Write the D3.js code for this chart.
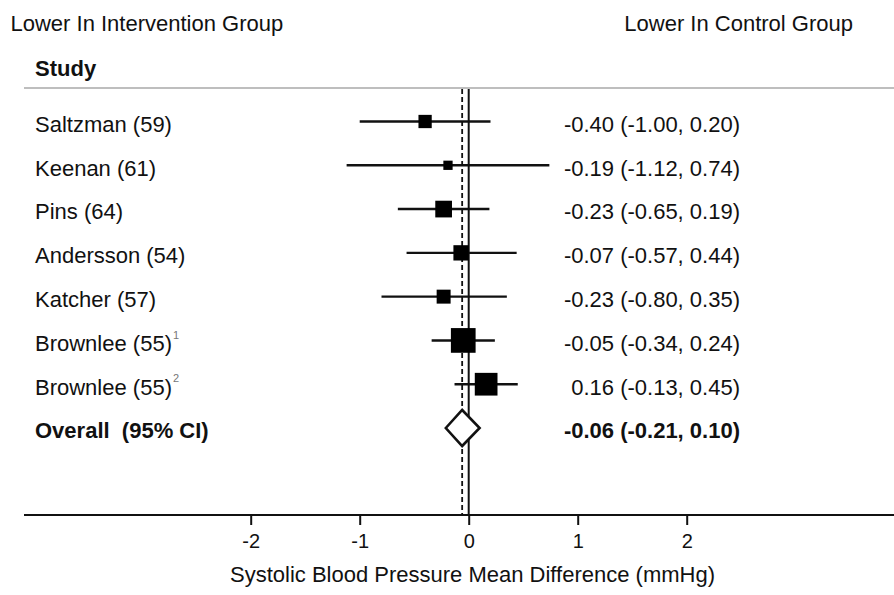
<!DOCTYPE html>
<html>
<head>
<meta charset="utf-8">
<script src="https://cdn.jsdelivr.net/npm/d3@7"></script>
<style>
  body { margin: 0; background: #fff; }
  text { font-family: "Liberation Sans", Arial, sans-serif; fill: #111; }
</style>
</head>
<body>
<script>
var w = 894,
    h = 595;

// study data
var studies = ["Saltzman (59)", "Keenan (61)", "Pins (64)", "Andersson (54)",
               "Katcher (57)", "Brownlee (55)", "Brownlee (55)"];
var notes = ["", "", "", "", "", "1", "2"];
var means = [-0.40, -0.19, -0.23, -0.07, -0.23, -0.05, 0.16];
var lower = [-1.00, -1.12, -0.65, -0.57, -0.80, -0.34, -0.13];
var upper = [0.20, 0.74, 0.19, 0.44, 0.35, 0.24, 0.45];
var weights = [8.4, 4.1, 13.3, 11.2, 9.3, 29.1, 24.6];

var overallLabel = "Overall  (95% CI)";
var overallMean = -0.06,
    overallLower = -0.21,
    overallUpper = 0.10;

var xTicks = [-2, -1, 0, 1, 2];

// plain hyphen for negatives, like the original
var locale = d3.formatLocale({ decimal: ".", thousands: ",", grouping: [3],
                               currency: ["", ""], minus: "-" });
var fmt = locale.format(".2f");

var svg = d3.select("body")
            .append("svg")
            .attr("width", w)
            .attr("height", h);

var x = d3.scaleLinear()
          .domain([-2, 2])
          .range([250.7, 686.7]);

var y = d3.scalePoint()
          .domain(d3.range(studies.length + 1))
          .range([121.5, 428]);

var size = d3.scaleSqrt()
             .domain([0, d3.max(weights)])
             .range([0, 24.7]);

var axisY = 515;

// header texts
svg.append("text")
    .attr("x", 10.5).attr("y", 31)
    .attr("font-size", "22px")
    .text("Lower In Intervention Group");

svg.append("text")
    .attr("x", 853).attr("y", 31)
    .attr("text-anchor", "end")
    .attr("font-size", "22px")
    .text("Lower In Control Group");

svg.append("text")
    .attr("x", 35).attr("y", 76)
    .attr("font-size", "22px")
    .attr("font-weight", "bold")
    .text("Study");

svg.append("line")
    .attr("x1", 24).attr("x2", w)
    .attr("y1", 88).attr("y2", 88)
    .attr("stroke", "#a8a8a8")
    .attr("stroke-width", 1.5);

// reference lines
svg.append("line")
    .attr("x1", x(0)).attr("x2", x(0))
    .attr("y1", 89).attr("y2", axisY)
    .attr("stroke", "#111")
    .attr("stroke-width", 2);

svg.append("line")
    .attr("x1", x(overallMean)).attr("x2", x(overallMean))
    .attr("y1", 89).attr("y2", axisY)
    .attr("stroke", "#111")
    .attr("stroke-width", 1.8)
    .attr("stroke-dasharray", "5,3");

// study rows
var rows = svg.selectAll("g.row")
    .data(means)
    .enter()
    .append("g")
    .attr("class", "row");

rows.append("line")
    .attr("x1", function(d, i) { return x(lower[i]); })
    .attr("x2", function(d, i) { return x(upper[i]); })
    .attr("y1", function(d, i) { return y(i); })
    .attr("y2", function(d, i) { return y(i); })
    .attr("stroke", "#111")
    .attr("stroke-width", 2.4);

rows.append("rect")
    .attr("x", function(d, i) { return x(d) - size(weights[i]) / 2; })
    .attr("y", function(d, i) { return y(i) - size(weights[i]) / 2; })
    .attr("width", function(d, i) { return size(weights[i]); })
    .attr("height", function(d, i) { return size(weights[i]); })
    .attr("fill", "#000");

var labels = rows.append("text")
    .attr("x", 35)
    .attr("y", function(d, i) { return y(i); })
    .attr("dy", "0.47em")
    .attr("font-size", "22px");

labels.append("tspan")
    .text(function(d, i) { return studies[i]; });

labels.append("tspan")
    .attr("font-size", "11px")
    .attr("dy", "-1.1em")
    .attr("dx", "1")
    .style("fill", "#777")
    .text(function(d, i) { return notes[i]; });

rows.append("text")
    .attr("x", 740)
    .attr("y", function(d, i) { return y(i); })
    .attr("dy", "0.47em")
    .attr("text-anchor", "end")
    .attr("font-size", "22px")
    .text(function(d, i) {
        return fmt(d) + " (" + fmt(lower[i]) + ", " + fmt(upper[i]) + ")";
    });

// overall row
var oy = y(studies.length);

svg.append("text")
    .attr("x", 35).attr("y", oy)
    .attr("dy", "0.47em")
    .attr("font-size", "22px")
    .attr("font-weight", "bold")
    .style("white-space", "pre")
    .text(overallLabel);

svg.append("text")
    .attr("x", 740).attr("y", oy)
    .attr("dy", "0.47em")
    .attr("text-anchor", "end")
    .attr("font-size", "22px")
    .attr("font-weight", "bold")
    .text(fmt(overallMean) + " (" + fmt(overallLower) + ", " + fmt(overallUpper) + ")");

svg.append("path")
    .attr("d", "M" + x(overallLower) + "," + oy +
               "L" + x(overallMean) + "," + (oy - 18) +
               "L" + x(overallUpper) + "," + oy +
               "L" + x(overallMean) + "," + (oy + 18) + "Z")
    .attr("fill", "#fff")
    .attr("stroke", "#111")
    .attr("stroke-width", 2.6);

// x axis
svg.append("line")
    .attr("x1", 24).attr("x2", w)
    .attr("y1", axisY).attr("y2", axisY)
    .attr("stroke", "#111")
    .attr("stroke-width", 2);

var axis = svg.append("g")
    .attr("transform", "translate(0," + axisY + ")")
    .call(d3.axisBottom(x).tickValues(xTicks).tickSize(10).tickPadding(9)
            .tickFormat(locale.format("d")));

axis.select(".domain").remove();
axis.selectAll(".tick line")
    .attr("stroke", "#111")
    .attr("stroke-width", 2);
axis.selectAll(".tick text")
    .attr("font-size", "20px")
    .attr("font-family", "\"Liberation Sans\", Arial, sans-serif")
    .style("fill", "#111");

svg.append("text")
    .attr("x", 472.5).attr("y", 582)
    .attr("text-anchor", "middle")
    .attr("font-size", "22px")
    .text("Systolic Blood Pressure Mean Difference (mmHg)");
</script>
</body>
</html>
